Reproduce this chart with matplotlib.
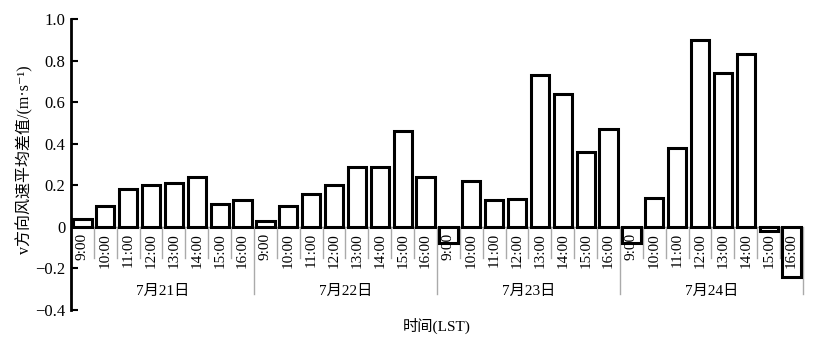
import matplotlib
matplotlib.use('Agg')
import matplotlib.pyplot as plt
import numpy as np

plt.rcParams['font.family'] = ['Liberation Serif', 'Noto Sans CJK SC', 'DejaVu Serif']

days = ['7月21日', '7月22日', '7月23日', '7月24日']
hours = ['9:00', '10:00', '11:00', '12:00', '13:00', '14:00', '15:00', '16:00']
jul21 = [0.04, 0.10, 0.18, 0.20, 0.21, 0.24, 0.11, 0.13]
jul22 = [0.03, 0.10, 0.16, 0.20, 0.29, 0.29, 0.46, 0.24]
jul23 = [-0.08, 0.22, 0.13, 0.135, 0.73, 0.64, 0.36, 0.47]
jul24 = [-0.08, 0.14, 0.38, 0.90, 0.74, 0.83, -0.02, -0.24]

values = jul21 + jul22 + jul23 + jul24
n = len(values)
x = np.arange(n)

fig = plt.figure(figsize=(8.2, 3.48), dpi=100)
ax = fig.add_axes([71 / 820, 1 - 310 / 348, 732 / 820, 291 / 348])

ax.bar(x, values, width=0.8, color='white', edgecolor='black', linewidth=2.2, zorder=3)
ax.axhline(0, color='#999999', linewidth=1, zorder=2)

ax.set_xlim(-0.5, n - 0.5)
ax.set_ylim(-0.4, 1.0)
ax.set_yticks([-0.4, -0.2, 0, 0.2, 0.4, 0.6, 0.8, 1.0])
ax.set_yticklabels(['\u22120.4', '\u22120.2', '0', '0.2', '0.4', '0.6', '0.8', '1.0'], fontsize=12)
ax.tick_params(axis='y', direction='in', length=5, width=1.5, pad=4)
ax.set_xticks([])
for s in ['top', 'right', 'bottom']:
    ax.spines[s].set_visible(False)
ax.spines['left'].set_linewidth(2)

# category axis: separators + hour labels
for i in range(n + 1):
    xb = i - 0.5
    ylow = -0.325 if i % 8 == 0 else -0.15
    ax.plot([xb, xb], [0, ylow], color='#aaaaaa', lw=1, clip_on=False, zorder=1)
for i in range(n):
    ax.text(i, -0.03, hours[i % 8], rotation=90, ha='center', va='top', fontsize=11,
            zorder=4, clip_on=False)
for d, day in enumerate(days):
    ax.text(d * 8 + 3.5, -0.31, day, ha='center', va='center', fontsize=11, clip_on=False)

fig.text(437 / 820, 1 - 326 / 348, '时间(LST)', ha='center', va='center', fontsize=11)
fig.text(25 / 820, 1 - 160 / 348, 'v方向风速平均差值/(m·s\u207b\u00b9)', rotation=90,
         ha='center', va='center', fontsize=11.5)

fig.savefig('out.png', dpi=100)
